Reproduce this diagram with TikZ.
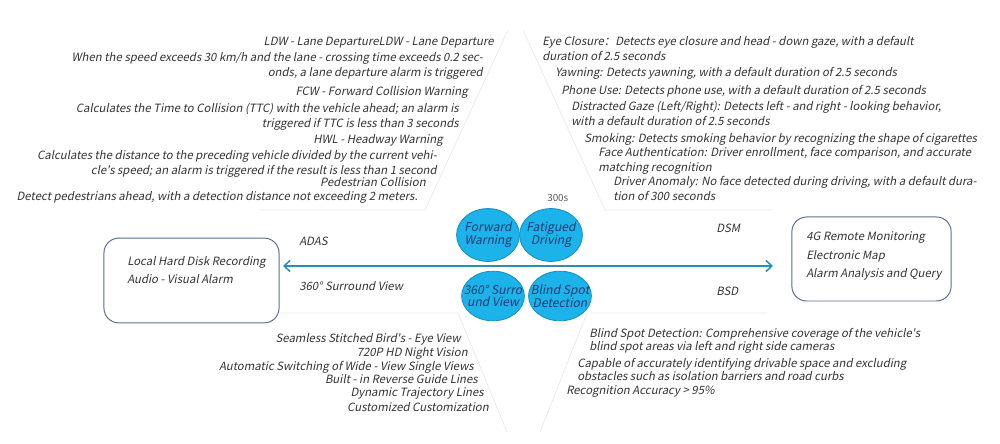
\documentclass[tikz,border=0pt]{standalone}
\usepackage{fontspec}
\setmainfont{Noto Sans CJK SC}
\newfontfamily\slantfont{Noto Sans CJK SC}[FakeSlant=0.2]
\usetikzlibrary{arrows.meta,shapes.geometric}
\definecolor{dsline}{HTML}{2E8DB3}
\definecolor{dsfill}{HTML}{1BB3EA}
\definecolor{dsedge}{HTML}{1590C8}
\definecolor{dsnavy}{HTML}{1F3B73}
\definecolor{dsbox}{HTML}{5B6C8F}
\definecolor{dstext}{HTML}{333333}
\definecolor{dspanel}{HTML}{E6E9EC}

\begin{document}
\begin{tikzpicture}[x=0.025cm, y=-0.025cm,
  txt/.style={inner sep=0pt, text=dstext, font=\slantfont\fontsize{8.1}{10.7}\selectfont},
  txtr/.style={txt, anchor=base east, align=right},
  txtl/.style={txt, anchor=base west, align=left},
  tight/.style={font=\slantfont\fontsize{8.1}{9.6}\selectfont},
  bubble/.style={ellipse, draw=dsedge, fill=dsfill, line width=0.6pt, minimum width=1.57cm, inner xsep=-6pt, inner ysep=0pt, text=dsnavy, align=center, font=\slantfont\fontsize{8.6}{9}\selectfont},
  hub/.style={draw=dsbox, line width=0.7pt, rounded corners=0.37cm},
  panel/.style={draw=dspanel, line width=0.5pt}]
  \useasboundingbox (0,0) rectangle (1000,444);

  % faint background panels
  \draw[panel] (508,30) -- (425,210) -- (260,210);
  \draw[panel] (523,30) -- (605,210) -- (772,210);
  \draw[panel] (280,313) -- (458,313) -- (507,432);
  \draw[panel] (767,313) -- (587,313) -- (540,432);

  % ADAS
  \node[txtr] (ldw) at (494,46) {LDW - Lane DepartureLDW - Lane Departure};
  \node[txtr] (ldwtext) at (483,77) {When the speed exceeds 30 km/h and the lane - crossing time exceeds 0.2 sec-\\onds, a lane departure alarm is triggered};
  \node[txtr] (fcw) at (468,96) {FCW - Forward Collision Warning};
  \node[txtr] (fcwtext) at (459,128) {Calculates the Time to Collision (TTC) with the vehicle ahead; an alarm is\\triggered if TTC is less than 3 seconds};
  \node[txtr] (hwl) at (443,144) {HWL - Headway Warning};
  \node[txtr] (hwltext) at (437,175) {Calculates the distance to the preceding vehicle divided by the current vehi-\\cle's speed; an alarm is triggered if the result is less than 1 second};
  \node[txtr] (pcw) at (426,187) {Pedestrian Collision};
  \node[txtr] (pcwtext) at (418,201) {Detect pedestrians ahead, with a detection distance not exceeding 2 meters.};

  % DSM
  \node[txtl] (eye) at (542,61) {Eye Closure：Detects eye closure and head - down gaze, with a default\\duration of 2.5 seconds};
  \node[txtl] (yawn) at (555,77) {Yawning: Detects yawning, with a default duration of 2.5 seconds};
  \node[txtl] (phone) at (561,95) {Phone Use: Detects phone use, with a default duration of 2.5 seconds};
  \node[txtl] (gaze) at (571,126) {Distracted Gaze (Left/Right): Detects left - and right - looking behavior,\\with a default duration of 2.5 seconds};
  \node[txtl] (smoke) at (584,143) {Smoking: Detects smoking behavior by recognizing the shape of cigarettes};
  \node[txtl] (face) at (598,172) {Face Authentication: Driver enrollment, face comparison, and accurate\\matching recognition};
  \node[txtl] (anomaly) at (613,201) {Driver Anomaly: No face detected during driving, with a default dura-\\tion of 300 seconds};
  \node[txtl, font=\fontsize{7}{9}\selectfont, text=black!65] (secs) at (547,202) {300s};

  % 360 surround view
  \node[txtr] (bird) at (461,343) {Seamless Stitched Bird's - Eye View};
  \node[txtr] (night) at (468,357) {720P HD Night Vision};
  \node[txtr] (wide) at (474,371) {Automatic Switching of Wide - View Single Views};
  \node[txtr] (guide) at (478,384) {Built - in Reverse Guide Lines};
  \node[txtr] (track) at (484,397) {Dynamic Trajectory Lines};
  \node[txtr] (custom) at (489,412) {Customized Customization};

  % BSD
  \node[txtl, tight] (bsdtext) at (589,351) {Blind Spot Detection: Comprehensive coverage of the vehicle's\\blind spot areas via left and right side cameras};
  \node[txtl, tight] (space) at (577,381) {Capable of accurately identifying drivable space and excluding\\obstacles such as isolation barriers and road curbs};
  \node[txtl] (accuracy) at (566,395) {Recognition Accuracy > 95\%};

  % centre
  \node[bubble, minimum height=1.32cm] (forward) at (488,235) {Forward\\Warning};
  \node[bubble, minimum height=1.32cm] (fatigue) at (551,235) {Fatigued\\Driving};
  \node[bubble, minimum height=1.24cm] (surround) at (493,296) {360° Surro\\und View};
  \node[bubble, minimum height=1.24cm] (blind) at (560,296) {Blind Spot\\Detection};

  \node[txtl] (adas) at (299,246) {ADAS};
  \node[txtl] (svm) at (299,291) {360° Surround View};
  \node[txtl] (dsm) at (716,233) {DSM};
  \node[txtl] (bsd) at (716,296) {BSD};

  % end boxes
  \node[hub, minimum width=4.375cm, minimum height=2.12cm] (local) at (191.5,280.5) {};
  \node[txtl, font=\slantfont\fontsize{8.1}{12.8}\selectfont] (localtext) at (127,284) {Local Hard Disk Recording\\Audio - Visual Alarm};
  \node[hub, minimum width=3.98cm, minimum height=2.1cm] (remote) at (871.5,259) {};
  \node[txtl, font=\slantfont\fontsize{8.1}{13.5}\selectfont] (remotetext) at (806,278) {4G Remote Monitoring\\Electronic Map\\Alarm Analysis and Query};

  \coordinate (leftend) at (283,266);
  \coordinate (rightend) at (773,266);
  \draw[dsline, line width=1.1pt, {Straight Barb[length=1.5mm,width=2.8mm]}-{Straight Barb[length=1.5mm,width=2.8mm]}] (leftend) -- (rightend);
\end{tikzpicture}
\end{document}
